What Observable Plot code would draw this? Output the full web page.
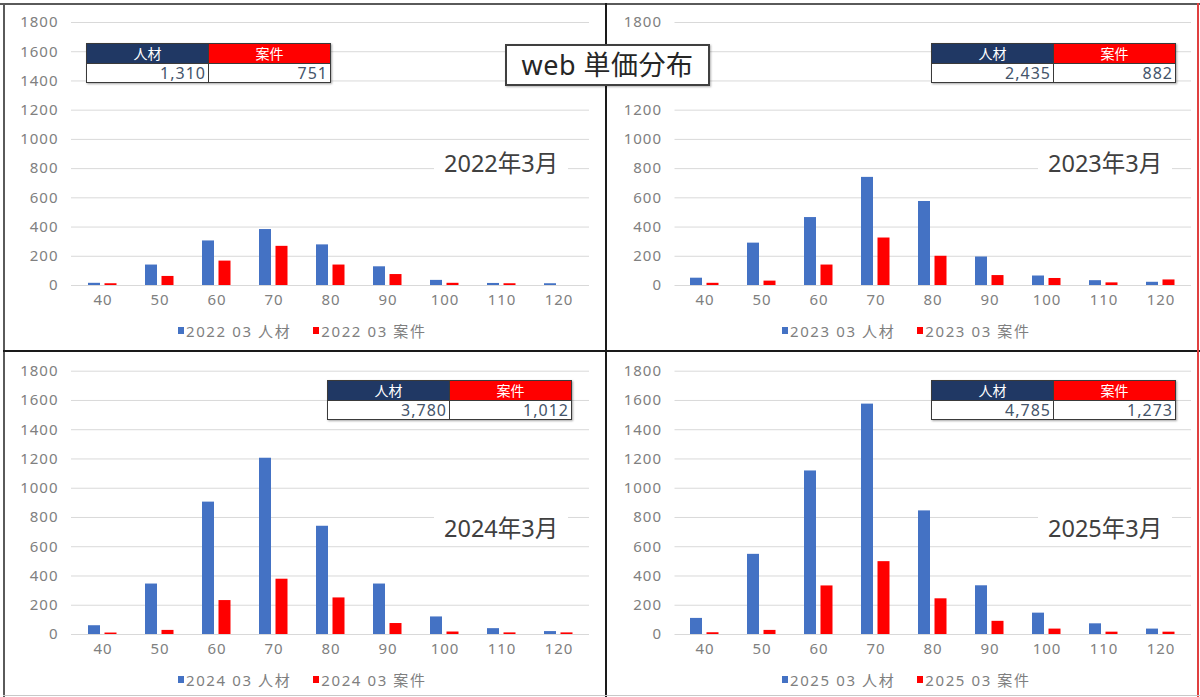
<!DOCTYPE html>
<html>
<head>
<meta charset="utf-8">
<script src="https://cdn.jsdelivr.net/npm/d3@7"></script>
<script src="https://cdn.jsdelivr.net/npm/@observablehq/plot@0.6"></script>
<style>
  html, body { margin: 0; padding: 0; background: #fff; }
  body { font-family: "Noto Sans", "Noto Sans CJK JP", sans-serif; }
  #root { position: relative; width: 1200px; height: 697px; overflow: hidden; background: #fff; }
  .panel { position: absolute; }
  .line { position: absolute; }
  .tbl { position: absolute; border-collapse: collapse; box-shadow: 1px 1px 2px rgba(0,0,0,0.35); }
  .tbl td { border: 1.5px solid #3a3a3a; padding: 0 2px; width: 117px; }
  .tbl .h1 { background: #203864; color: #fff; text-align: center; font-size: 14px; height: 19px; line-height: 19px; }
  .tbl .h2 { background: #ff0000; color: #fff; text-align: center; font-size: 14px; height: 19px; line-height: 19px; }
  .tbl .v { background: #fff; color: #44546a; text-align: right; font-size: 16px; height: 18px; line-height: 18px; letter-spacing: 1px; }
  .month { position: absolute; background: #fff; color: #404040; font-size: 23.5px; padding: 2px 10px; line-height: 24px; }
  .legend { position: absolute; display: flex; align-items: center; color: #7f7f7f; font-size: 15px; letter-spacing: 1.6px; white-space: nowrap; }
  .legend .sw { display: inline-block; width: 6px; height: 7px; margin-right: 2px; }
  .legend .item { display: flex; align-items: center; margin-right: 22px; }
  #title { position: absolute; left: 505px; top: 44px; width: 201px; height: 38px; border: 2px solid #404040; background: #fff;
           box-shadow: 1px 1px 2px rgba(0,0,0,0.3); color: #262626; font-size: 27px; line-height: 38px; text-align: center; letter-spacing: 0.5px; }
</style>
</head>
<body>
<div id="root"></div>
<script>
// ---- data ----
const categories = [40, 50, 60, 70, 80, 90, 100, 110, 120];
const yTicks = [0, 200, 400, 600, 800, 1000, 1200, 1400, 1600, 1800];
const periods = ["2022 03", "2023 03", "2024 03", "2025 03"];
const monthLabels = ["2022年3月", "2023年3月", "2024年3月", "2025年3月"];
const seriesNames = ["人材", "案件"];
const jinzai2022 = [15, 140, 305, 383, 278, 128, 35, 14, 12];
const anken2022  = [12, 62, 167, 268, 140, 75, 15, 12, 0];
const jinzai2023 = [50, 290, 465, 740, 575, 195, 65, 33, 22];
const anken2023  = [15, 30, 140, 325, 200, 68, 48, 18, 38];
const jinzai2024 = [60, 345, 905, 1205, 740, 345, 120, 40, 20];
const anken2024  = [10, 28, 232, 378, 250, 75, 17, 11, 11];
const jinzai2025 = [110, 548, 1118, 1575, 845, 333, 146, 73, 37];
const anken2025  = [12, 28, 332, 498, 244, 90, 37, 16, 16];
const totalJinzai = [1310, 2435, 3780, 4785];
const totalAnken  = [751, 882, 1012, 1273];

const jinzaiAll = [jinzai2022, jinzai2023, jinzai2024, jinzai2025];
const ankenAll  = [anken2022, anken2023, anken2024, anken2025];

const BLUE = "#4472c4", RED = "#ff0000";

// layout per panel
const layout = [
  {left: 0,   top: 0,   w: 600, h: 350, ml: 71,   mr: 11, mt: 22,   mb: 65,
   table: [86, 43],  month: [434, 149], legend: [178, 320]},
  {left: 600, top: 0,   w: 600, h: 350, ml: 74.5, mr: 9,  mt: 22,   mb: 65,
   table: [931, 43], month: [1038, 149], legend: [782, 320]},
  {left: 0,   top: 350, w: 600, h: 347, ml: 71,   mr: 11, mt: 20.7, mb: 63,
   table: [327, 380], month: [434, 514], legend: [178, 669]},
  {left: 600, top: 350, w: 600, h: 347, ml: 74.5, mr: 9,  mt: 20.7, mb: 63,
   table: [931, 380], month: [1038, 514], legend: [782, 669]}
];

const root = document.getElementById("root");
const fmt = d3.format(",");

layout.forEach((L, i) => {
  const data = categories.map((c, k) => ({cat: c, jinzai: jinzaiAll[i][k], anken: ankenAll[i][k]}));
  const chart = Plot.plot({
    width: L.w, height: L.h,
    marginLeft: L.ml, marginRight: L.mr, marginTop: L.mt, marginBottom: L.mb,
    style: {fontFamily: '"Noto Sans", "Noto Sans CJK JP", sans-serif', fontSize: "15px", color: "#808080", letterSpacing: "1px", background: "transparent"},
    x: {type: "band", domain: categories, padding: 0},
    y: {domain: [0, 1800]},
    marks: [
      Plot.ruleY(yTicks, {stroke: "#d9d9d9", strokeWidth: 1}),
      Plot.barY(data, {x: "cat", y: "jinzai", fill: BLUE, insetLeft: 14, insetRight: 31}),
      Plot.barY(data, {x: "cat", y: "anken", fill: RED, insetLeft: 30.5, insetRight: 14.5}),
      Plot.axisX({tickSize: 0, tickPadding: 9, label: null, fill: "#808080"}),
      Plot.axisY({ticks: yTicks, tickFormat: d => String(d), tickSize: 0, tickPadding: 13, label: null, fill: "#808080"})
    ]
  });
  const wrap = document.createElement("div");
  wrap.className = "panel";
  wrap.style.left = L.left + "px";
  wrap.style.top = L.top + "px";
  wrap.appendChild(chart);
  root.appendChild(wrap);

  // summary table
  const t = document.createElement("table");
  t.className = "tbl";
  t.style.left = L.table[0] + "px";
  t.style.top = L.table[1] + "px";
  t.innerHTML = `<tr><td class="h1">${seriesNames[0]}</td><td class="h2">${seriesNames[1]}</td></tr>
                 <tr><td class="v">${fmt(totalJinzai[i])}</td><td class="v">${fmt(totalAnken[i])}</td></tr>`;
  root.appendChild(t);

  // month label
  const m = document.createElement("div");
  m.className = "month";
  m.style.left = L.month[0] + "px";
  m.style.top = L.month[1] + "px";
  m.textContent = monthLabels[i];
  root.appendChild(m);

  // legend
  const lg = document.createElement("div");
  lg.className = "legend";
  lg.style.left = L.legend[0] + "px";
  lg.style.top = L.legend[1] + "px";
  lg.innerHTML = `<span class="item"><span class="sw" style="background:${BLUE}"></span>${periods[i]} ${seriesNames[0]}</span>
                  <span class="item"><span class="sw" style="background:${RED}"></span>${periods[i]} ${seriesNames[1]}</span>`;
  root.appendChild(lg);
});

// frame lines
function line(x, y, w, h, c) {
  const d = document.createElement("div");
  d.className = "line";
  Object.assign(d.style, {left: x + "px", top: y + "px", width: w + "px", height: h + "px", background: c});
  root.appendChild(d);
}
line(0, 3, 1200, 2, "#5a5a5a");      // top
line(3, 3, 2, 694, "#5a5a5a");       // left
line(605, 3, 2, 694, "#1a1a1a");     // vertical divider
line(3, 350, 1197, 2, "#1a1a1a");    // horizontal divider
line(1197, 3, 1.5, 694, "#e04040");  // right edge
line(3, 695, 1197, 1, "#c8c8c8");    // bottom

// title
const title = document.createElement("div");
title.id = "title";
title.textContent = "web 単価分布";
root.appendChild(title);
</script>
</body>
</html>
